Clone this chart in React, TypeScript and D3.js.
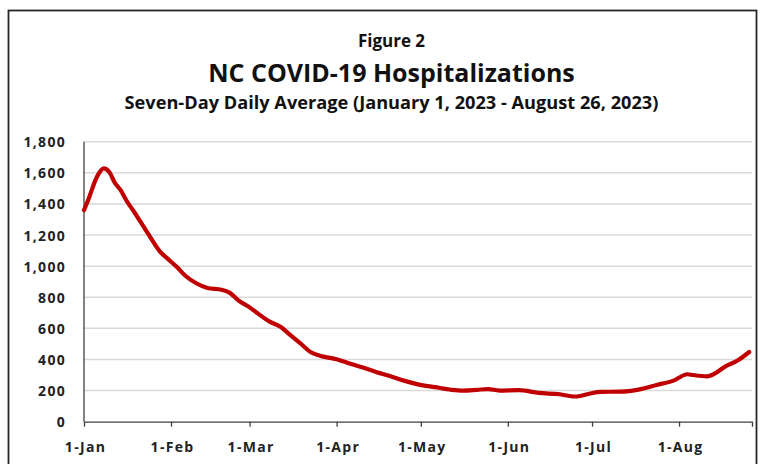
import React, { useEffect, useRef } from 'react';
import * as d3 from 'd3';

// Seven-day average hospitalizations
const dates = [
  '2023-01-01', '2023-01-03', '2023-01-05', '2023-01-07', '2023-01-08', '2023-01-10',
  '2023-01-12', '2023-01-14', '2023-01-16', '2023-01-19', '2023-01-22', '2023-01-25',
  '2023-01-28', '2023-01-31', '2023-02-03', '2023-02-06', '2023-02-10', '2023-02-14',
  '2023-02-19', '2023-02-22', '2023-02-25', '2023-03-01', '2023-03-04', '2023-03-08',
  '2023-03-12', '2023-03-15', '2023-03-19', '2023-03-23', '2023-03-27', '2023-04-01',
  '2023-04-05', '2023-04-10', '2023-04-15', '2023-04-20', '2023-04-25', '2023-04-30',
  '2023-05-06', '2023-05-12', '2023-05-16', '2023-05-21', '2023-05-25', '2023-05-29',
  '2023-06-05', '2023-06-12', '2023-06-19', '2023-06-25', '2023-06-30', '2023-07-04',
  '2023-07-11', '2023-07-18', '2023-07-24', '2023-07-30', '2023-08-04', '2023-08-06',
  '2023-08-11', '2023-08-18', '2023-08-22', '2023-08-26',
];
const hospitalized = [
  1360, 1450, 1550, 1615, 1628, 1605,
  1535, 1490, 1425, 1345, 1260, 1175,
  1095, 1045, 996, 940, 890, 860,
  848, 828, 780, 735, 695, 645,
  610, 565, 505, 445, 420, 401,
  378, 350, 320, 294, 264, 240,
  222, 205, 200, 205, 210, 200,
  203, 185, 177, 162, 180, 192,
  193, 208, 236, 264, 305, 300,
  292, 360, 395, 448,
];
const monthTicks = [
  '2023-01-01', '2023-02-01', '2023-03-01', '2023-04-01',
  '2023-05-01', '2023-06-01', '2023-07-01', '2023-08-01',
];
const yTicks = [0, 200, 400, 600, 800, 1000, 1200, 1400, 1600, 1800];

const W = 764;
const H = 464;

export default function App() {
  const svgRef = useRef<SVGSVGElement>(null);

  useEffect(() => {
    document.body.style.margin = '0';
    if (!svgRef.current) return;
    const svg = d3.select(svgRef.current);
    svg.selectAll('*').remove();

    const parse = d3.utcParse('%Y-%m-%d');
    const data = dates.map((d, i) => ({ date: parse(d)!, value: hospitalized[i] }));

    const left = 84, right = 752, top = 141.7, bottom = 421.7;
    const x = d3.scaleUtc()
      .domain([parse('2023-01-01')!, parse('2023-08-27')!])
      .range([left, right]);
    const y = d3.scaleLinear().domain([0, 1800]).range([bottom, top]);

    const font = "'Open Sans', 'Noto Sans', sans-serif";

    // frame
    svg.append('rect')
      .attr('x', 8.5).attr('y', 10.5)
      .attr('width', 748).attr('height', 470)
      .attr('fill', '#fff')
      .attr('stroke', '#262626')
      .attr('stroke-width', 1.8);

    // titles
    const cx = 391.5;
    svg.append('text')
      .attr('x', cx).attr('y', 46.5)
      .attr('text-anchor', 'middle')
      .style('font-family', font).style('font-weight', 700).style('font-size', '17px')
      .attr('fill', '#111')
      .text('Figure 2');
    svg.append('text')
      .attr('x', cx).attr('y', 81.5)
      .attr('text-anchor', 'middle')
      .style('font-family', font).style('font-weight', 700).style('font-size', '25px')
      .attr('fill', '#111')
      .text('NC COVID-19 Hospitalizations');
    svg.append('text')
      .attr('x', cx).attr('y', 108.5)
      .attr('text-anchor', 'middle')
      .style('font-family', font).style('font-weight', 700).style('font-size', '18.2px')
      .attr('fill', '#111')
      .text('Seven-Day Daily Average (January 1, 2023 - August 26, 2023)');

    // gridlines
    svg.append('g')
      .selectAll('line')
      .data(yTicks.filter(t => t > 0))
      .enter()
      .append('line')
      .attr('x1', left).attr('x2', right)
      .attr('y1', d => y(d)).attr('y2', d => y(d))
      .attr('stroke', '#d9d9d9')
      .attr('stroke-width', 1.5);

    // y labels
    svg.append('g')
      .selectAll('text')
      .data(yTicks)
      .enter()
      .append('text')
      .attr('x', 66)
      .attr('y', d => y(d) + 5.5)
      .attr('text-anchor', 'end')
      .style('font-family', font).style('font-weight', 700).style('font-size', '14px')
      .style('letter-spacing', '1.3px')
      .attr('fill', '#222')
      .text(d => d3.format(',')(d));

    // axes
    svg.append('line')
      .attr('x1', left).attr('x2', left)
      .attr('y1', top).attr('y2', bottom)
      .attr('stroke', '#404040').attr('stroke-width', 1.3);

    const xAxis = d3.axisBottom(x)
      .tickValues([...monthTicks.map(d => parse(d)!), parse('2023-08-27')!])
      .tickSize(5)
      .tickSizeOuter(0)
      .tickFormat(() => '');
    const gx = svg.append('g')
      .attr('transform', `translate(0,${bottom})`)
      .call(xAxis);
    gx.select('.domain').attr('stroke', '#404040').attr('stroke-width', 1.3);
    gx.selectAll('.tick line').attr('stroke', '#404040').attr('stroke-width', 1.3);

    svg.append('g')
      .selectAll('text')
      .data(monthTicks.map(d => parse(d)!))
      .enter()
      .append('text')
      .attr('x', d => x(d) + 1.5)
      .attr('y', 452)
      .attr('text-anchor', 'middle')
      .style('font-family', font).style('font-weight', 700).style('font-size', '14px')
      .style('letter-spacing', '1.3px')
      .attr('fill', '#222')
      .text(d => d3.utcFormat('%-d-%b')(d));

    // line
    const line = d3.line<{ date: Date; value: number }>()
      .x(d => x(d.date))
      .y(d => y(d.value))
      .curve(d3.curveMonotoneX);

    svg.append('path')
      .datum(data)
      .attr('d', line)
      .attr('fill', 'none')
      .attr('stroke', '#c00000')
      .attr('stroke-width', 4.2)
      .attr('stroke-linejoin', 'round')
      .attr('stroke-linecap', 'round');
  }, []);

  return <svg ref={svgRef} width={W} height={H} style={{ display: 'block' }} />;
}
